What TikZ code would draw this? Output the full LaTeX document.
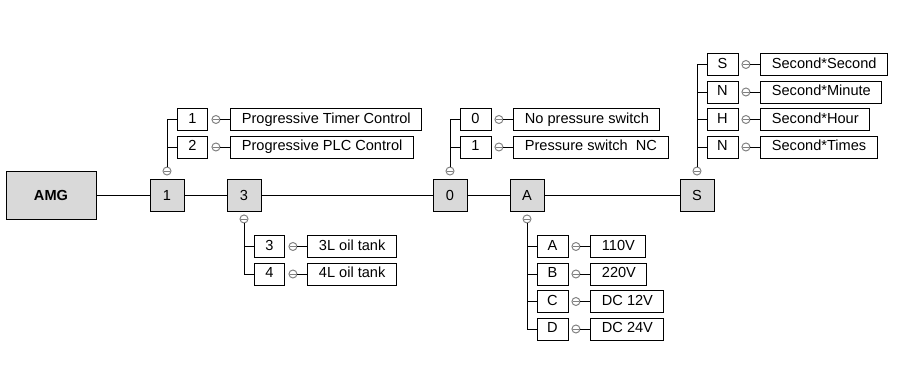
\documentclass[tikz,border=0pt]{standalone}
\usepackage{fontspec}
\setmainfont{Liberation Sans}
\usetikzlibrary{positioning}
\tikzset{
  mainbox/.style={draw, fill=gray!30, minimum width=0.68cm, minimum height=0.64cm, inner sep=0pt},
  codebox/.style={draw, fill=white, minimum width=0.62cm, minimum height=0.44cm, inner sep=0pt, text height=6pt, text depth=1.6pt},
  labelbox/.style={draw, fill=white, minimum height=0.44cm, inner xsep=0.22cm, inner ysep=0pt, text height=6pt, text depth=1.6pt},
  joint/.style={circle, draw=gray, fill=white, inner sep=0pt, minimum size=0.16cm,
    path picture={\draw[gray, line width=0.5pt] ([xshift=0.02cm]path picture bounding box.west) -- ([xshift=-0.02cm]path picture bounding box.east);}}
}
\begin{document}
\begin{tikzpicture}[x=0.02cm, y=-0.02cm, font=\fontsize{8.3}{10}\selectfont, line width=0.55pt]
    \useasboundingbox (0,0) rectangle (899,391);

    % Main chain of code positions
    \node[mainbox, minimum width=1.8cm, minimum height=0.96cm] (amg) at (51,195) {\textbf{AMG}};
    \node[mainbox] (m1) at (167,195) {1};
    \node[mainbox] (m3) at (244,195) {3};
    \node[mainbox] (m0) at (450,195) {0};
    \node[mainbox] (mA) at (527,195) {A};
    \node[mainbox] (mS) at (697,195) {S};
    \draw (amg) -- (m1) -- (m3) -- (m0) -- (mA) -- (mS);

    % Joints above and below the chain
    \node[joint, above=0.06cm of m1] (j1) {};
    \node[joint, below=0.06cm of m3] (j3) {};
    \node[joint, above=0.06cm of m0] (j0) {};
    \node[joint, below=0.06cm of mA] (jA) {};
    \node[joint, above=0.06cm of mS] (jS) {};

    % Control options
    \foreach \code/\desc [count=\i] in {1/Progressive Timer Control, 2/Progressive PLC Control} {
        \node[codebox, anchor=west] (c1\i) at (176.5, 92+27.5*\i) {\code};
        \node[joint, right=0.06cm of c1\i] (k1\i) {};
        \node[labelbox, right=0.2cm of k1\i] (l1\i) {\desc};
        \draw (j1) |- (c1\i);
        \draw (k1\i) -- (l1\i);
    }

    % Oil tank options
    \foreach \code/\desc [count=\i] in {3/3L oil tank, 4/4L oil tank} {
        \node[codebox, anchor=west] (c3\i) at (253.5, 219+27.5*\i) {\code};
        \node[joint, right=0.06cm of c3\i] (k3\i) {};
        \node[labelbox, right=0.2cm of k3\i] (l3\i) {\desc};
        \draw (j3) |- (c3\i);
        \draw (k3\i) -- (l3\i);
    }

    % Pressure switch options
    \foreach \code/\desc [count=\i] in {0/No pressure switch, 1/Pressure switch~~NC} {
        \node[codebox, anchor=west] (c0\i) at (459.5, 92+27.5*\i) {\code};
        \node[joint, right=0.06cm of c0\i] (k0\i) {};
        \node[labelbox, right=0.2cm of k0\i] (l0\i) {\desc};
        \draw (j0) |- (c0\i);
        \draw (k0\i) -- (l0\i);
    }

    % Voltage options
    \foreach \code/\desc [count=\i] in {A/110V, B/220V, C/DC 12V, D/DC 24V} {
        \node[codebox, anchor=west] (cA\i) at (536.5, 219+27.5*\i) {\code};
        \node[joint, right=0.06cm of cA\i] (kA\i) {};
        \node[labelbox, right=0.2cm of kA\i] (lA\i) {\desc};
        \draw (jA) |- (cA\i);
        \draw (kA\i) -- (lA\i);
    }

    % Timing options
    \foreach \code/\desc [count=\i] in {S/Second*Second, N/Second*Minute, H/Second*Hour, N/Second*Times} {
        \node[codebox, anchor=west] (cS\i) at (706.5, 37+27.5*\i) {\code};
        \node[joint, right=0.06cm of cS\i] (kS\i) {};
        \node[labelbox, right=0.2cm of kS\i] (lS\i) {\desc};
        \draw (jS) |- (cS\i);
        \draw (kS\i) -- (lS\i);
    }
\end{tikzpicture}
\end{document}
